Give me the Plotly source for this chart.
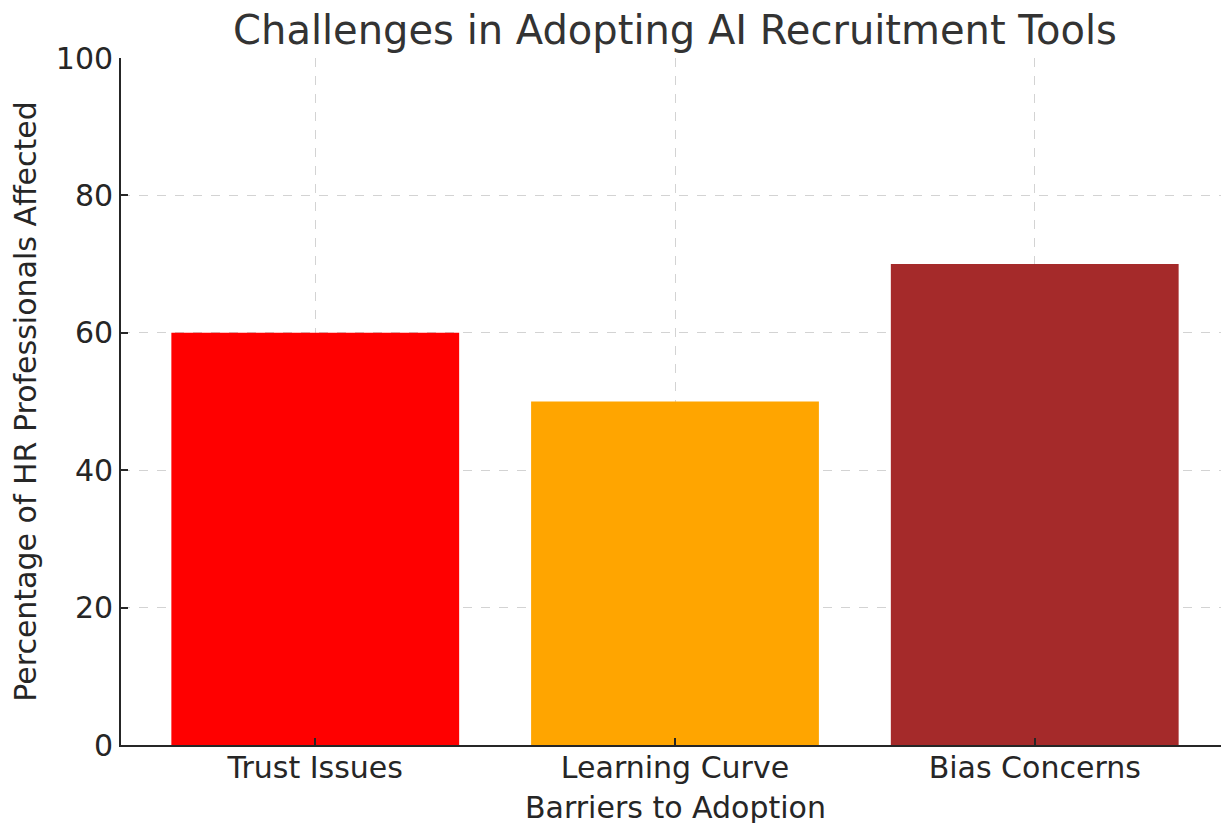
import plotly.graph_objects as go

categories = ["Trust Issues", "Learning Curve", "Bias Concerns"]
values = [60, 50, 70]
colors = ["#FF0000", "#FFA500", "#A52A2A"]
y_ticks = [0, 20, 40, 60, 80, 100]

fig = go.Figure(go.Bar(
    x=list(range(len(categories))), y=values, width=0.8,
    marker=dict(color=colors, line=dict(width=0)),
))

font_family = "DejaVu Sans"
fig.update_layout(
    width=1221, height=815,
    margin=dict(l=113, r=0, t=50, b=78, autoexpand=False),
    paper_bgcolor="white", plot_bgcolor="white",
    showlegend=False,
    font=dict(family=font_family, size=30, color="#262626"),
    title=dict(text="Challenges in Adopting AI Recruitment Tools",
               x=0.5, xanchor="center", xref="paper",
               y=1 - 22 / 815, yanchor="middle", yref="container",
               font=dict(size=40, color="#333333", family=font_family)),
)
fig.add_annotation(
    text="Barriers to Adoption", xref="paper", yref="paper",
    x=0.5, y=-62 / 687, xanchor="center", yanchor="middle",
    showarrow=False, font=dict(size=30, color="#262626", family=font_family),
)
fig.update_xaxes(
    range=[-0.54, 2.54], automargin=False,
    tickmode="array", tickvals=list(range(len(categories))), ticktext=categories,
    tickfont=dict(size=30), ticklabelstandoff=-5,
    showline=True, linecolor="#262626", linewidth=1.8,
    ticks="inside", ticklen=7, tickwidth=1.5, tickcolor="#262626",
    showgrid=True, gridcolor="#d3d3d3", griddash="dash", gridwidth=1,
    layer="above traces", zeroline=False,
)
fig.update_yaxes(
    range=[0, 100], automargin=False,
    tickmode="array", tickvals=y_ticks,
    tickfont=dict(size=30),
    showline=True, linecolor="#262626", linewidth=1.8,
    ticks="inside", ticklen=7, tickwidth=1.5, tickcolor="#262626",
    showgrid=True, gridcolor="#d3d3d3", griddash="dash", gridwidth=1,
    layer="above traces", zeroline=False,
    title=dict(text="Percentage of HR Professionals Affected", standoff=12, font=dict(size=30)),
)

fig.write_html("out.html")
